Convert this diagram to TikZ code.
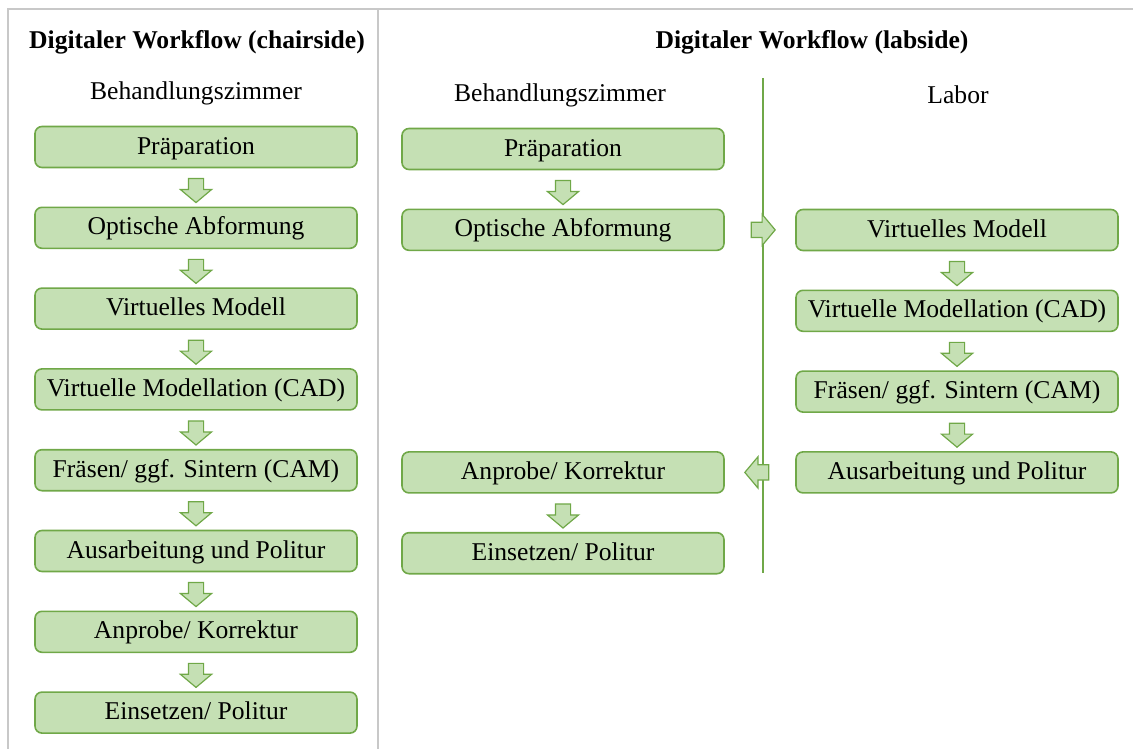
\documentclass[tikz,border=0pt]{standalone}
\usepackage{fontspec}
\setmainfont{Liberation Serif}
\usepackage{tikz}
\usetikzlibrary{positioning, calc, shapes.arrows}
\definecolor{stepfill}{RGB}{197,224,180}
\definecolor{stepline}{RGB}{112,168,72}
\definecolor{gridgray}{RGB}{200,200,200}

\begin{document}
\begin{tikzpicture}[x=0.5pt, y=-0.5pt,
  every node/.style={inner sep=2pt, font=\fontsize{12.8}{15}\selectfont},
  colhead/.style={font=\fontsize{12.8}{15}\selectfont\bfseries},
  stepbox/.style={draw=stepline, fill=stepfill, line width=0.8pt, rounded corners=3.5pt,
    minimum width=161pt, minimum height=20.5pt, text height=9.5pt, text depth=2.5pt},
  flow/.style={single arrow, draw=stepline, fill=stepfill, line width=0.6pt, inner sep=3.5pt,
    minimum height=12pt, minimum width=15pt, single arrow head extend=4pt,
    single arrow tip angle=100},
  darr/.style={flow, shape border rotate=270},
  node distance=19.1pt]
\useasboundingbox (0,0) rectangle (1133,749);

% table rules
\coordinate (tl) at (8,9);
\coordinate (tr) at (1133,9);
\coordinate (bl) at (8,749);
\coordinate (st) at (378,9);
\coordinate (sb) at (378,749);
\draw[gridgray, line width=1pt] (tr) -- (tl) -- (bl);
\draw[gridgray, line width=1pt] (st) -- (sb);

% headings
\node[colhead] (t1) at (197,42) {Digitaler Workflow (chairside)};
\node[colhead] (t2) at (812,42) {Digitaler Workflow (labside)};
\node (z1) at (196,93) {Behandlungszimmer};
\node (z2) at (560,95) {Behandlungszimmer};
\node (lab) at (958,95) {Labor};

% chairside
\node[stepbox] (a1) at (196,147) {Präparation};
\node[stepbox, below=of a1] (a2) {Optische Abformung};
\node[stepbox, below=of a2] (a3) {Virtuelles Modell};
\node[stepbox, below=of a3] (a4) {Virtuelle Modellation (CAD)};
\node[stepbox, below=of a4] (a5) {Fräsen/ ggf. Sintern (CAM)};
\node[stepbox, below=of a5] (a6) {Ausarbeitung und Politur};
\node[stepbox, below=of a6] (a7) {Anprobe/ Korrektur};
\node[stepbox, below=of a7] (a8) {Einsetzen/ Politur};

% labside, Behandlungszimmer
\node[stepbox] (b1) at (563,149) {Präparation};
\node[stepbox, below=of b1] (b2) {Optische Abformung};

% labside, Labor
\node[stepbox] (c1) at (957,230) {Virtuelles Modell};
\node[stepbox, below=of c1] (c2) {Virtuelle Modellation (CAD)};
\node[stepbox, below=of c2] (c3) {Fräsen/ ggf. Sintern (CAM)};
\node[stepbox, below=of c3] (c4) {Ausarbeitung und Politur};

\node[stepbox] (b3) at (b1 |- c4) {Anprobe/ Korrektur};
\node[stepbox, below=of b3] (b4) {Einsetzen/ Politur};

% divider
\coordinate (vt) at (763,78);
\coordinate (vb) at (763,573);
\draw[stepline, line width=1pt] (vt) -- (vb);

% arrows
\foreach \u/\v [count=\k] in {a1/a2, a2/a3, a3/a4, a4/a5, a5/a6, a6/a7, a7/a8,
    b1/b2, b3/b4, c1/c2, c2/c3, c3/c4}
  \node[darr] (d\k) at ($(\u.south)!.5!(\v.north)$) {};
\node[flow] (go) at ($(b2.east)!.5!(c1.west)$) {};
\node[flow, shape border rotate=180] (back) at ($(c4.west)!.5!(b3.east)$) {};
\end{tikzpicture}
\end{document}
